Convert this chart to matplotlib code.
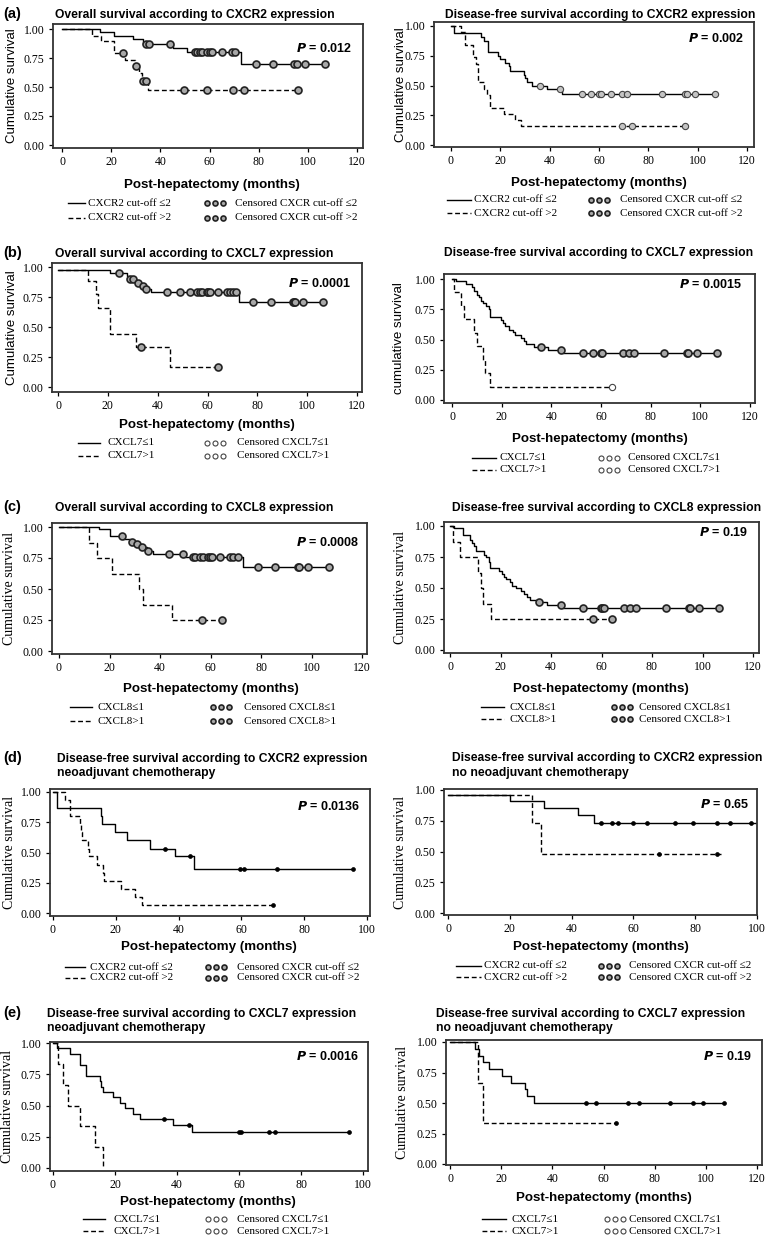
import numpy as np
import matplotlib.pyplot as plt
from matplotlib.lines import Line2D

W, H = 768, 1238
SANS = ['Liberation Sans', 'DejaVu Sans']
NARROW = ['Liberation Sans Narrow', 'Liberation Sans', 'DejaVu Sans']
SERIF = ['Liberation Serif', 'DejaVu Serif']

# ---- data (time in months, cumulative survival) ----
# (a) overall survival, CXCR2
os_cxcr2_lo_t = [0, 15.6, 21, 29, 33, 45, 51, 73]
os_cxcr2_lo_s = [1.0, 0.971, 0.943, 0.914, 0.875, 0.84, 0.80, 0.70]
os_cxcr2_lo_c = [34, 35.5, 44, 54, 55, 56, 57, 59, 60, 61, 65, 69, 70.5, 79, 86, 94.5, 95.5, 99, 107]
os_cxcr2_hi_t = [0, 12, 16, 21, 25.7, 29.5, 31.5, 32.5, 34.8]
os_cxcr2_hi_s = [1.0, 0.94, 0.895, 0.79, 0.735, 0.68, 0.62, 0.555, 0.475]
os_cxcr2_hi_c = [25, 30, 33, 34, 49.5, 59, 69.5, 74, 96]

# (a) disease-free survival, CXCR2
dfs_cxcr2_lo_t = [0, 1.3, 12, 13.5, 15, 19, 20, 22, 23.5, 24, 29.5, 30, 31, 33, 39, 45]
dfs_cxcr2_lo_s = [1.0, 0.94, 0.91, 0.875, 0.78, 0.75, 0.72, 0.69, 0.66, 0.625, 0.59, 0.56, 0.53, 0.50, 0.47, 0.43]
dfs_cxcr2_lo_c = [36, 44, 53.3, 56.6, 60, 60.7, 64.7, 69.4, 71.4, 85.6, 95, 95.7, 99, 107.2]
dfs_cxcr2_hi_t = [0, 4, 5.5, 9, 10, 11, 13.5, 14.5, 16, 21.5, 26, 28.5]
dfs_cxcr2_hi_s = [1.0, 0.95, 0.84, 0.74, 0.68, 0.53, 0.47, 0.42, 0.315, 0.26, 0.21, 0.158]
dfs_cxcr2_hi_c = [69.5, 73.5, 95]

# (b) overall survival, CXCL7
os_cxcl7_lo_t = [0, 20.8, 27.5, 28.5, 31.5, 33, 34.5, 37.5, 72.7]
os_cxcl7_lo_s = [0.975, 0.95, 0.925, 0.90, 0.87, 0.845, 0.82, 0.79, 0.71]
os_cxcl7_lo_c = [24.4, 29, 30, 32, 34, 35.3, 43.6, 49, 53, 55.6, 57, 57.7, 59.7, 60.3, 61, 64.4,
                 68, 69, 70.4, 71.5, 78.4, 85.5, 94.3, 94.8, 95.3, 98.3, 106.2]
os_cxcl7_hi_t = [0, 12, 15.4, 16, 20.8, 31.5, 45]
os_cxcl7_hi_s = [0.975, 0.883, 0.778, 0.661, 0.44, 0.333, 0.167]
os_cxcl7_hi_c = [33.5, 64.4]

# (b) disease-free survival, CXCL7
dfs_cxcl7_lo_t = [0, 1.6, 5.6, 7.9, 9, 10, 10.7, 11.7, 12.6, 13.7, 14.7, 15.4, 19.7, 20.4, 21.3,
                  23, 24.4, 25.5, 27.8, 29, 29.8, 33, 38.5, 44.8]
dfs_cxcl7_lo_s = [1.0, 0.98, 0.96, 0.93, 0.90, 0.87, 0.85, 0.82, 0.80, 0.78, 0.75, 0.69, 0.66, 0.64,
                  0.61, 0.58, 0.56, 0.54, 0.51, 0.49, 0.465, 0.44, 0.41, 0.385]
dfs_cxcl7_lo_c = [35.8, 44, 52.8, 56.6, 60, 60.6, 69, 71.3, 73.3, 85.4, 94.5, 95.2, 98.5, 106.6]
dfs_cxcl7_hi_t = [0, 1, 3.6, 5, 8.7, 10, 12.6, 13.4, 15.4]
dfs_cxcl7_hi_s = [1.0, 0.889, 0.778, 0.667, 0.556, 0.444, 0.333, 0.222, 0.111]
dfs_cxcl7_hi_c = [64.4]

# (c) overall survival, CXCL8
os_cxcl8_lo_t = [0, 16, 20.2, 25.5, 28.1, 30, 31.8, 34.7, 37.4, 50, 73]
os_cxcl8_lo_s = [1.0, 0.98, 0.93, 0.905, 0.88, 0.86, 0.84, 0.81, 0.785, 0.755, 0.675]
os_cxcl8_lo_c = [24.8, 29, 31, 33, 35.4, 43.7, 49.3, 53, 53.7, 55.9, 57.2, 59.2, 59.9, 60.5, 63.8,
                 67.8, 69.1, 70.8, 79, 85.6, 94.6, 95.1, 98.6, 106.8]
os_cxcl8_hi_t = [0, 12, 15.2, 20.9, 31.8, 33.2, 44.7]
os_cxcl8_hi_s = [1.0, 0.875, 0.75, 0.625, 0.5, 0.375, 0.25]
os_cxcl8_hi_c = [56.6, 64.5]

# (c) disease-free survival, CXCL8
dfs_cxcl8_lo_t = [0, 1.7, 5, 8, 8.6, 9.4, 10.3, 13.6, 14.2, 15.3, 16, 19.5, 20.4, 21.5, 22.1, 23.8,
                  24.5, 26, 28.3, 29.4, 30.4, 31.7, 34.9, 38.6, 44.9]
dfs_cxcl8_lo_s = [1.0, 0.98, 0.93, 0.89, 0.86, 0.84, 0.80, 0.77, 0.75, 0.71, 0.66, 0.64, 0.61, 0.59,
                  0.57, 0.545, 0.52, 0.50, 0.475, 0.45, 0.43, 0.405, 0.385, 0.36, 0.335]
dfs_cxcl8_lo_c = [35.3, 43.9, 52.8, 59.9, 60.3, 61, 68.9, 71.3, 73.5, 85.4, 94.6, 95.2, 98.5, 106.4]
dfs_cxcl8_hi_t = [0, 1.3, 4, 10.9, 12.2, 12.9, 16.2]
dfs_cxcl8_hi_s = [1.0, 0.875, 0.75, 0.625, 0.5, 0.375, 0.25]
dfs_cxcl8_hi_c = [56.8, 64.3]

# (d) DFS by CXCR2, neoadjuvant / no neoadjuvant
neo_cxcr2_lo_t = [0, 1.3, 15.4, 15.7, 19.7, 23.7, 30.9, 38.8, 45]
neo_cxcr2_lo_s = [1.0, 0.867, 0.80, 0.733, 0.667, 0.60, 0.533, 0.467, 0.367]
neo_cxcr2_lo_c = [35.6, 43.6, 59.6, 60.9, 71.3, 95.5]
neo_cxcr2_hi_t = [0, 3.9, 5.3, 8.5, 8.8, 9.2, 11, 11.5, 14, 16, 16.3, 21.8, 26, 28.5]
neo_cxcr2_hi_s = [1.0, 0.933, 0.80, 0.733, 0.667, 0.60, 0.533, 0.467, 0.40, 0.333, 0.267, 0.20, 0.133, 0.067]
neo_cxcr2_hi_c = [70]

noneo_cxcr2_lo_t = [0, 20, 31, 42.2, 47.2]
noneo_cxcr2_lo_s = [0.96, 0.91, 0.855, 0.795, 0.735]
noneo_cxcr2_lo_c = [49.6, 53, 55, 60, 64.5, 73.4, 79.2, 87.2, 91.2, 98]
noneo_cxcr2_hi_t = [0, 27.2, 30]
noneo_cxcr2_hi_s = [0.96, 0.735, 0.48]
noneo_cxcr2_hi_c = [68.3, 87.2]

# (e) DFS by CXCL7, neoadjuvant / no neoadjuvant
neo_cxcl7_lo_t = [0, 1.3, 5.4, 8.6, 10.5, 15, 15.6, 16.1, 19.4, 21.5, 23.1, 25.8, 28, 38.7, 45]
neo_cxcl7_lo_s = [1.0, 0.957, 0.913, 0.826, 0.739, 0.696, 0.652, 0.609, 0.565, 0.522, 0.478, 0.435,
                  0.391, 0.342, 0.285]
neo_cxcl7_lo_c = [35.7, 43.9, 60, 60.8, 69.7, 71.5, 95.5]
neo_cxcl7_hi_t = [0, 1.6, 3.2, 4.8, 8.6, 13.4, 16.1]
neo_cxcl7_hi_s = [1.0, 0.833, 0.667, 0.50, 0.333, 0.167, 0.0]
neo_cxcl7_hi_c = []

noneo_cxcl7_lo_t = [0, 9.6, 11.3, 13, 15.2, 20.4, 23.7, 29.5, 30.1, 32.8]
noneo_cxcl7_lo_s = [1.0, 0.944, 0.889, 0.833, 0.778, 0.722, 0.667, 0.611, 0.556, 0.50]
noneo_cxcl7_lo_c = [53.2, 57.1, 69.6, 74, 85.9, 95, 98.9, 107.2]
noneo_cxcl7_hi_t = [0, 11, 13]
noneo_cxcl7_hi_s = [1.0, 0.667, 0.333]
noneo_cxcl7_hi_c = [65]

titles = [
    ["Overall survival according to CXCR2 expression"],
    ["Disease-free survival according to CXCR2 expression"],
    ["Overall survival according to CXCL7 expression"],
    ["Disease-free survival according to CXCL7 expression"],
    ["Overall survival according to CXCL8 expression"],
    ["Disease-free survival according to CXCL8 expression"],
    ["Disease-free survival according to CXCR2 expression", "neoadjuvant chemotherapy"],
    ["Disease-free survival according to CXCR2 expression", "no neoadjuvant chemotherapy"],
    ["Disease-free survival according to CXCL7 expression", "neoadjuvant chemotherapy"],
    ["Disease-free survival according to CXCL7 expression", "no neoadjuvant chemotherapy"],
]
pvals = ["0.012", "0.002", "0.0001", "0.0015", "0.0008", "0.19", "0.0136", "0.65", "0.0016", "0.19"]
lab_cxcr2 = ["CXCR2 cut-off \u22642", "CXCR2 cut-off >2", "Censored CXCR cut-off \u22642", "Censored CXCR cut-off >2"]
lab_cxcl7 = ["CXCL7\u22641", "CXCL7>1", "Censored CXCL7\u22641", "Censored CXCL7>1"]
lab_cxcl8 = ["CXCL8\u22641", "CXCL8>1", "Censored CXCL8\u22641", "Censored CXCL8>1"]
legend_labels = [lab_cxcr2, lab_cxcr2, lab_cxcl7, lab_cxcl7, lab_cxcl8, lab_cxcl8,
                 lab_cxcr2, lab_cxcr2, lab_cxcl7, lab_cxcl7]
ylabels = ["Cumulative survival"] * 3 + ["cumulative survival"] + ["Cumulative survival"] * 6
letters = {0: "(a)", 2: "(b)", 4: "(c)", 6: "(d)", 8: "(e)"}
curves = [
    (os_cxcr2_lo_t, os_cxcr2_lo_s, os_cxcr2_lo_c, os_cxcr2_hi_t, os_cxcr2_hi_s, os_cxcr2_hi_c),
    (dfs_cxcr2_lo_t, dfs_cxcr2_lo_s, dfs_cxcr2_lo_c, dfs_cxcr2_hi_t, dfs_cxcr2_hi_s, dfs_cxcr2_hi_c),
    (os_cxcl7_lo_t, os_cxcl7_lo_s, os_cxcl7_lo_c, os_cxcl7_hi_t, os_cxcl7_hi_s, os_cxcl7_hi_c),
    (dfs_cxcl7_lo_t, dfs_cxcl7_lo_s, dfs_cxcl7_lo_c, dfs_cxcl7_hi_t, dfs_cxcl7_hi_s, dfs_cxcl7_hi_c),
    (os_cxcl8_lo_t, os_cxcl8_lo_s, os_cxcl8_lo_c, os_cxcl8_hi_t, os_cxcl8_hi_s, os_cxcl8_hi_c),
    (dfs_cxcl8_lo_t, dfs_cxcl8_lo_s, dfs_cxcl8_lo_c, dfs_cxcl8_hi_t, dfs_cxcl8_hi_s, dfs_cxcl8_hi_c),
    (neo_cxcr2_lo_t, neo_cxcr2_lo_s, neo_cxcr2_lo_c, neo_cxcr2_hi_t, neo_cxcr2_hi_s, neo_cxcr2_hi_c),
    (noneo_cxcr2_lo_t, noneo_cxcr2_lo_s, noneo_cxcr2_lo_c, noneo_cxcr2_hi_t, noneo_cxcr2_hi_s, noneo_cxcr2_hi_c),
    (neo_cxcl7_lo_t, neo_cxcl7_lo_s, neo_cxcl7_lo_c, neo_cxcl7_hi_t, neo_cxcl7_hi_s, neo_cxcl7_hi_c),
    (noneo_cxcl7_lo_t, noneo_cxcl7_lo_s, noneo_cxcl7_lo_c, noneo_cxcl7_hi_t, noneo_cxcl7_hi_s, noneo_cxcl7_hi_c),
]

# ---- layout in pixels ----
# box (l, r, t, b), x-tick 0 px, last tick px, last tick value, y 1.00 px, y 0.00 px
layout = [
    dict(box=(53, 363, 24, 148), xr=(62, 357, 120), yr=(29, 145), title=(55, [15]), p=(11, 24),
         ylab=(12, SANS, 9.5), xlab=(212, 185), leg=(68, 85, 88, 207, 235, 203, 218), end=(107, 96)),
    dict(box=(434, 754, 22, 147), xr=(451, 747, 120), yr=(26, 145), title=(445, [15]), p=(10, 16),
         ylab=(401, SANS, 9.5), xlab=(599, 183), leg=(447, 471, 474, 591, 620, 200, 213), end=(107.2, 95)),
    dict(box=(52, 362, 263, 392), xr=(58, 357, 120), yr=(267, 387), title=(55, [254]), p=(11, 20),
         ylab=(12, SANS, 9.5), xlab=(207, 425), leg=(78, 100, 108, 207, 237, 443, 456), end=(106.2, 64.4)),
    dict(box=(444, 755, 274, 403), xr=(452, 750, 120), yr=(279, 400), title=(444, [253]), p=(13, 11),
         ylab=(399, SANS, 9.5), xlab=(600, 439), leg=(472, 496, 500, 601, 628, 458, 470), end=(106.6, 64.4)),
    dict(box=(52, 367, 523, 654), xr=(59, 362, 120), yr=(527, 651), title=(55, [508]), p=(8, 19),
         ylab=(10, SERIF, 10), xlab=(211, 689), leg=(70, 92, 98, 213, 244, 707, 721), end=(106.8, 64.5)),
    dict(box=(444, 759, 522, 653), xr=(450, 753, 120), yr=(526, 650), title=(452, [508]), p=(11, 10),
         ylab=(401, SERIF, 10), xlab=(601, 689), leg=(481, 504, 509, 614, 639, 707, 719), end=(106.4, 64.3)),
    dict(box=(50, 370, 789, 916), xr=(53, 367, 100), yr=(792, 913), title=(57, [759, 773]), p=(10, 17),
         ylab=(10, SERIF, 10), xlab=(209, 947), leg=(65, 85, 90, 208, 237, 967, 978), end=(95.5, 70)),
    dict(box=(444, 757, 789, 915), xr=(448, 757, 100), yr=(790, 913), title=(452, [758, 773]), p=(8, 15),
         ylab=(401, SERIF, 10), xlab=(601, 947), leg=(456, 481, 484, 601, 629, 966, 977), end=(100, 88.5)),
    dict(box=(50, 368, 1042, 1171), xr=(53, 363, 100), yr=(1043, 1168), title=(47, [1014, 1028]), p=(9, 15),
         ylab=(8, SERIF, 10), xlab=(208, 1202), leg=(83, 105, 113, 208, 237, 1219, 1231), end=(95.5, 16.1)),
    dict(box=(446, 762, 1040, 1165), xr=(450, 757, 120), yr=(1042, 1164), title=(436, [1014, 1028]), p=(10, 16),
         ylab=(402, SERIF, 10), xlab=(604, 1198), leg=(482, 506, 511, 607, 629, 1219, 1231), end=(107.2, 65)),
]

# censor marker style per panel (lo curve, hi curve)
thick = dict(marker='o', ms=5, mfc='#a8a8a8', mec='#222222', mew=1.2)
thin = dict(marker='o', ms=4.5, mfc='#c4c4c4', mec='#444444', mew=0.8)
openc = dict(marker='o', ms=4.5, mfc='white', mec='#444444', mew=0.8)
dot = dict(marker='o', ms=2.8, mfc='k', mec='k', mew=0.5)
mstyles = [(thick, thick), (thin, thin), (thick, thick), (thick, openc), (thick, thick),
           (thick, thick), (dot, dot), (dot, dot), (dot, dot), (dot, dot)]
legend_marker = [thick, thick, openc, openc, thick, thick, thick, thick, openc, openc]

DASH = (0, (3.5, 2))

fig = plt.figure(figsize=(W / 100, H / 100), dpi=100)


def fx(x):
    return x / W


def fy(y):
    return 1 - y / H


def km(ax, t, s, cens, end, dashed, ms):
    t = np.asarray(t, float)
    s = np.asarray(s, float)
    tt = np.append(t, end)
    ss = np.append(s, s[-1])
    ax.step(tt, ss, where='post', color='k', lw=1.0, ls=DASH if dashed else '-')
    if len(cens):
        idx = np.searchsorted(t, cens, side='right') - 1
        ax.plot(cens, s[idx], ls='none', zorder=3, **ms)


for i, L in enumerate(layout):
    l, r, t, b = L['box']
    x0p, x1p, xmax = L['xr']
    y1p, y0p = L['yr']
    ax = fig.add_axes([fx(l), fy(b), (r - l) / W, (b - t) / H])
    ppm = (x1p - x0p) / xmax
    ax.set_xlim(-(x0p - l) / ppm, xmax + (r - x1p) / ppm)
    ppu = y0p - y1p
    ax.set_ylim(-(b - y0p) / ppu, 1 + (y1p - t) / ppu)
    ax.set_xticks(np.arange(0, xmax + 1, 20))
    ax.set_yticks([0, 0.25, 0.5, 0.75, 1.0])
    ax.set_yticklabels(["%.2f" % v for v in [0, 0.25, 0.5, 0.75, 1.0]])
    ax.tick_params(direction='out', length=3, width=0.9, labelsize=8.5, pad=3)
    for lab in ax.get_xticklabels() + ax.get_yticklabels():
        lab.set_family(SERIF)
    for sp in ax.spines.values():
        sp.set_linewidth(1.3)
        sp.set_color('#333333')

    lo_t, lo_s, lo_c, hi_t, hi_s, hi_c = curves[i]
    km(ax, hi_t, hi_s, hi_c, L['end'][1], True, mstyles[i][1])
    km(ax, lo_t, lo_s, lo_c, L['end'][0], False, mstyles[i][0])

    # p value
    pdx, pdy = L['p']
    ax.text(1 - pdx / (r - l), 1 - pdy / (b - t), r"$\bfit{P}$" + " = " + pvals[i], transform=ax.transAxes,
            ha='right', va='center', fontsize=9, fontweight='bold', family=SANS)

    # title
    tx, tys = L['title']
    for line, ty in zip(titles[i], tys):
        fig.text(fx(tx), fy(ty), line, ha='left', va='center', fontsize=8.7, fontweight='bold', family=SANS)
    if i in letters:
        fig.text(fx(3), fy(tys[0] - 1), letters[i], ha='left', va='center', fontsize=10.5,
                 fontweight='bold', family=SANS)

    # axis labels
    yx, yfam, ysz = L['ylab']
    fig.text(fx(yx), fy((t + b) / 2), ylabels[i], rotation=90, ha='center', va='center',
             fontsize=ysz, family=yfam)
    xx, xy = L['xlab']
    fig.text(fx(xx), fy(xy), "Post-hepatectomy (months)", ha='center', va='center',
             fontsize=9.6, fontweight='bold', family=NARROW)

    # legend below
    lx0, lx1, ltx, cx, ctx, ly1, ly2 = L['leg']
    labs = legend_labels[i]
    for k, (ly, dashed) in enumerate([(ly1, False), (ly2, True)]):
        fig.add_artist(Line2D([fx(lx0), fx(lx1)], [fy(ly), fy(ly)], transform=fig.transFigure,
                              color='k', lw=1.0, ls=DASH if dashed else '-'))
        fig.text(fx(ltx), fy(ly), labs[k], ha='left', va='center', fontsize=8, family=SERIF)
        mk = dict(legend_marker[i])
        mk['ms'] = 3.6
        fig.add_artist(Line2D([fx(cx), fx(cx + 8), fx(cx + 16)], [fy(ly)] * 3, transform=fig.transFigure,
                              ls='none', **mk))
        fig.text(fx(ctx), fy(ly), labs[k + 2], ha='left', va='center', fontsize=8, family=SERIF)

fig.savefig("out.png", dpi=100, facecolor='white')
